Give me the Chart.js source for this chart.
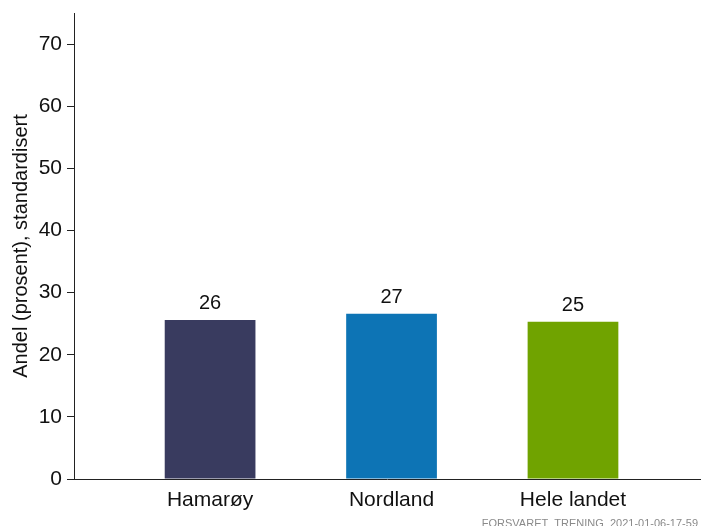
<!DOCTYPE html>
<html>
<head>
<meta charset="utf-8">
<script src="https://cdn.jsdelivr.net/npm/chart.js@4/dist/chart.umd.min.js"></script>
<style>
  html, body { margin: 0; padding: 0; background: #fff; }
  #wrap { width: 702px; height: 526px; position: relative; }
</style>
</head>
<body>
<div id="wrap"><canvas id="myChart" width="702" height="526"></canvas></div>
<script>
'use strict';

// data
const categories = ['Hamarøy', 'Nordland', 'Hele landet'];
const values = [25.6, 26.6, 25.3];
const barColors = ['#393b5f', '#0d74b5', '#70a300'];
const yTicks = [0, 10, 20, 30, 40, 50, 60, 70];
const yTitle = 'Andel (prosent), standardisert';
const footer = 'FORSVARET_TRENING_2021-01-06-17-59';

const FONT = "'Liberation Sans', Arial, sans-serif";

// value labels above bars + footer
const labelPlugin = {
  id: 'labels',
  afterDatasetsDraw(chart) {
    const ctx = chart.ctx;
    const meta = chart.getDatasetMeta(0);
    ctx.save();
    ctx.font = '20px ' + FONT;
    ctx.fillStyle = '#111';
    ctx.textAlign = 'center';
    ctx.textBaseline = 'bottom';
    meta.data.forEach(function (bar, i) {
      ctx.fillText(Math.round(values[i]), bar.x, bar.y - 6);
    });
    ctx.font = '11px ' + FONT;
    ctx.fillStyle = '#8a8a8a';
    ctx.textAlign = 'right';
    ctx.textBaseline = 'top';
    ctx.fillText(footer, 698, 518);
    ctx.restore();
  }
};

const chart = new Chart(document.getElementById('myChart'), {
  type: 'bar',
  data: {
    datasets: [{
      data: values.map(function (v, i) { return { x: i, y: v }; }),
      backgroundColor: barColors,
      borderWidth: 0,
      barPercentage: 0.5,
      categoryPercentage: 1
    }]
  },
  options: {
    responsive: false,
    animation: false,
    layout: { padding: { top: 13, right: 2, left: 0, bottom: 0 } },
    plugins: { legend: { display: false }, tooltip: { enabled: false } },
    scales: {
      x: {
        type: 'linear',
        offset: false,
        min: -0.75,
        max: 2.7,
        afterBuildTicks: function (scale) {
          scale.ticks = categories.map(function (c, i) { return { value: i }; });
        },
        afterFit: function (scale) {
          scale.height = 47;
          scale.paddingLeft = 0;
          scale.paddingRight = 0;
        },
        grid: { display: true, offset: false, drawOnChartArea: false, drawTicks: false },
        border: { color: '#222', width: 1 },
        ticks: {
          autoSkip: false,
          maxRotation: 0,
          padding: 9,
          color: '#111',
          font: { family: FONT, size: 21 },
          callback: function (v) { return categories[v]; }
        }
      },
      y: {
        min: 0,
        max: 75,
        afterBuildTicks: function (scale) {
          scale.ticks = yTicks.map(function (v) { return { value: v }; });
        },
        afterFit: function (scale) {
          scale.width = 74;
          scale.paddingTop = 0;
          scale.paddingBottom = 0;
        },
        grid: { drawOnChartArea: false, tickLength: 7, color: '#222' },
        border: { color: '#222', width: 1 },
        ticks: {
          padding: 5,
          color: '#111',
          font: { family: FONT, size: 21 }
        },
        title: {
          display: true,
          text: yTitle,
          color: '#111',
          font: { family: FONT, size: 20 },
          padding: { top: 9, bottom: 0 }
        }
      }
    }
  },
  plugins: [labelPlugin]
});
</script>
</body>
</html>
